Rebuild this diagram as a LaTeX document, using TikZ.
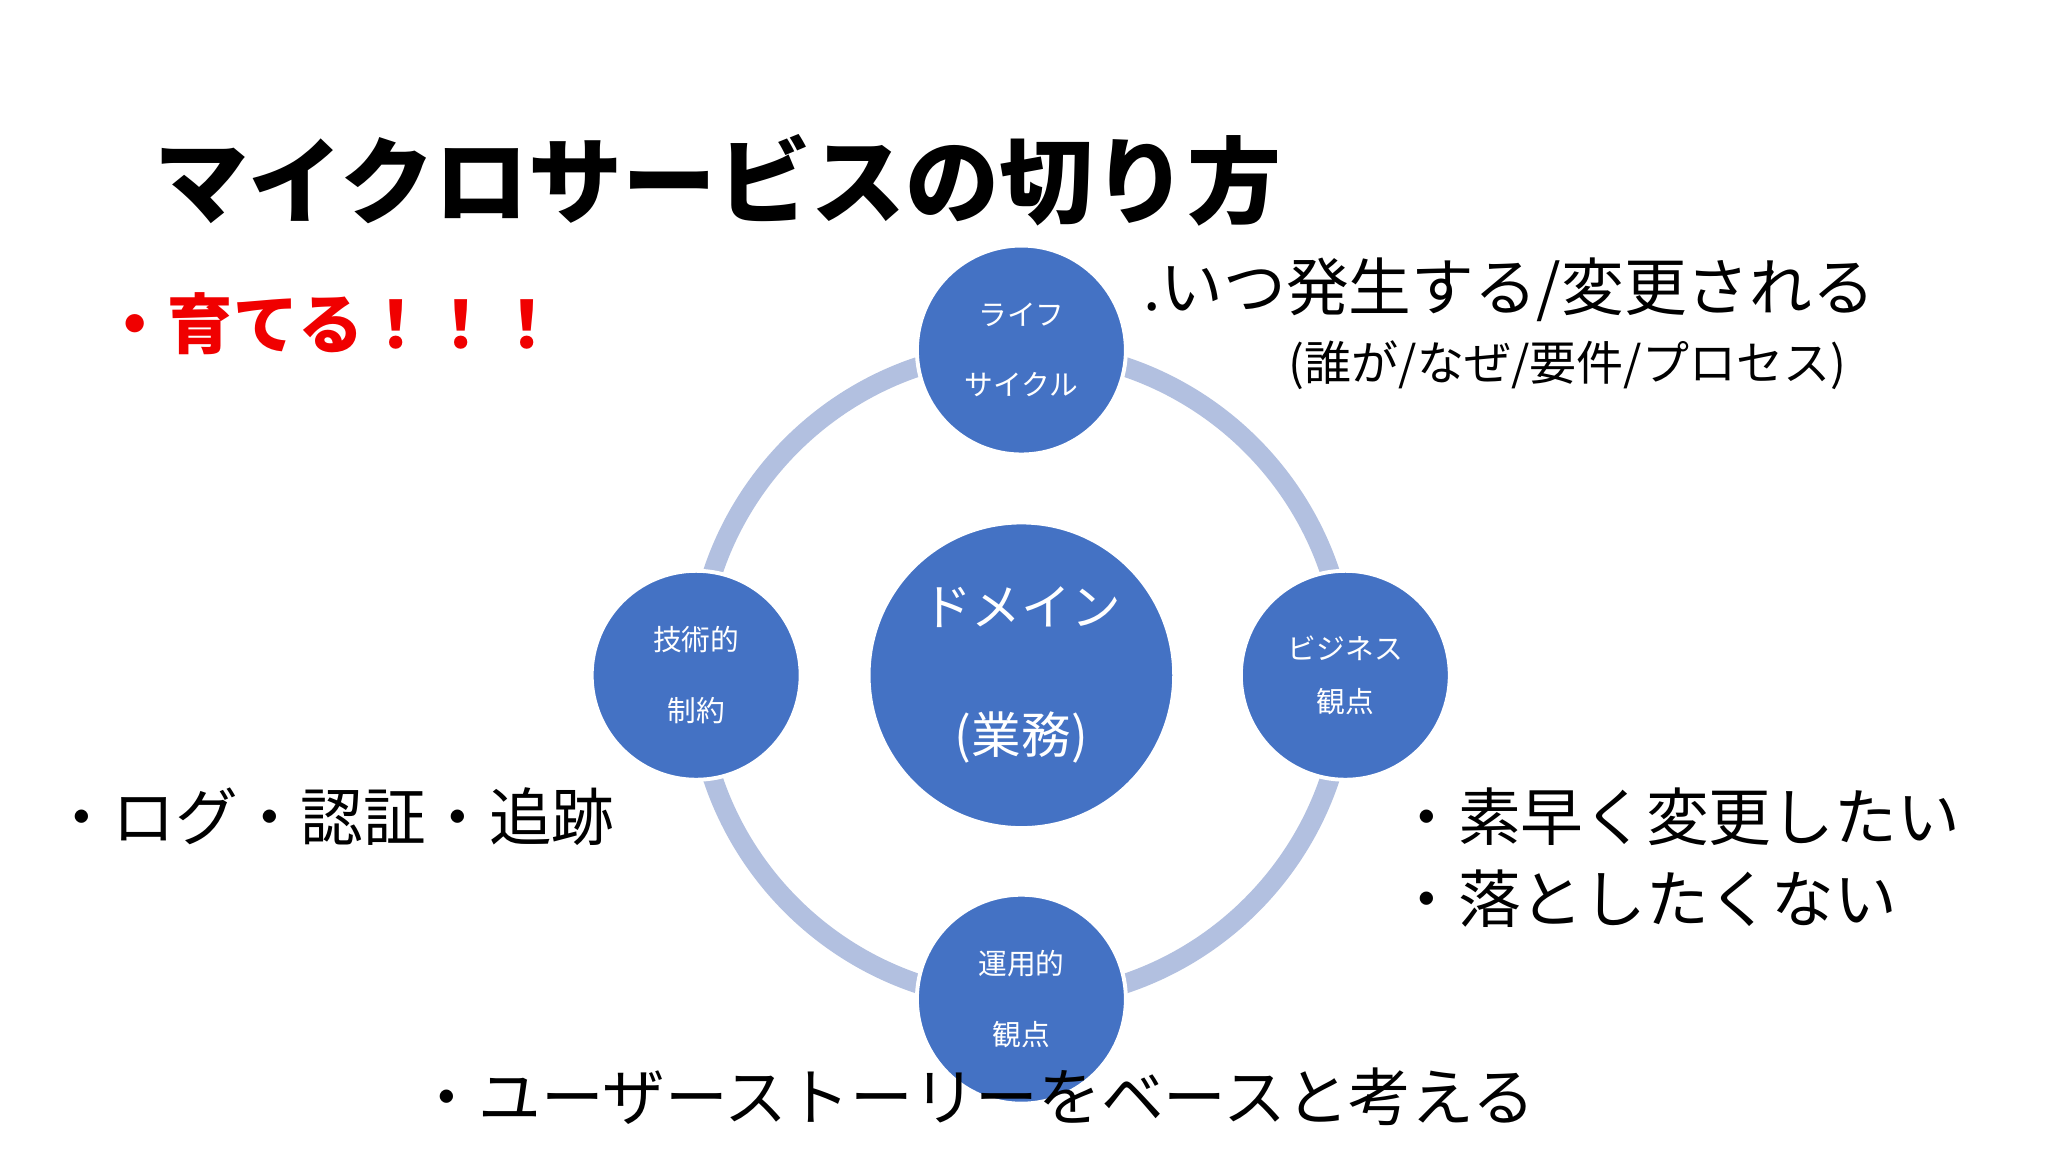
\documentclass[tikz,border=0pt]{standalone}
\usepackage{fontspec}
\setmainfont{Noto Sans CJK JP}
\definecolor{ringc}{RGB}{178,192,224}
\definecolor{bluec}{RGB}{68,114,196}
\definecolor{redc}{RGB}{240,0,0}
\tikzset{
  sm/.style={circle,fill=bluec,draw=white,line width=1.5pt,minimum size=80pt,inner sep=0pt,text=white,font=\fontsize{11}{27}\selectfont,align=center},
  big/.style={circle,fill=bluec,draw=white,line width=1.5pt,minimum size=117pt,inner sep=0pt,text=white,font=\fontsize{19}{49}\selectfont,align=center},
  txt/.style={font=\fontsize{24}{30}\selectfont,inner sep=0pt,anchor=west}
}
\begin{document}
\begin{tikzpicture}[x=0.5pt,y=-0.5pt]
\useasboundingbox[fill=white] (0,0) rectangle (1568,882);
\draw[ringc,line width=7.5pt] (782,517) circle[radius=249];
\node[big] (dom) at (782,517) {ドメイン\\(業務)};
\node[sm] (top) at (782,268) {ライフ\\サイクル};
\node[sm] (left) at (533,517) {技術的\\制約};
\node[sm,font=\fontsize{11}{20}\selectfont] (right) at (1030,517) {ビジネス\\観点};
\node[sm] (bot) at (782,765) {運用的\\観点};
\node[font=\bfseries\fontsize{36}{40}\selectfont,anchor=west,inner sep=0pt] (title) at (118,138) {マイクロサービスの切り方};
\node[font=\bfseries\fontsize{25}{30}\selectfont,text=redc,anchor=west,inner sep=0pt] (grow) at (78,248) {・育てる！！！};
\node[txt] (t1) at (875,222) {.いつ発生する/変更される};
\node[font=\fontsize{18}{22}\selectfont,inner sep=0pt] (t2) at (1200,280) {(誰が/なぜ/要件/プロセス)};
\node[txt] (t3) at (38,625) {・ログ・認証・追跡};
\node[txt] (t4) at (1068,625) {・素早く変更したい};
\node[txt] (t5) at (1068,688) {・落としたくない};
\node[txt] (t6) at (318,840) {・ユーザーストーリーをベースと考える};
\end{tikzpicture}
\end{document}
